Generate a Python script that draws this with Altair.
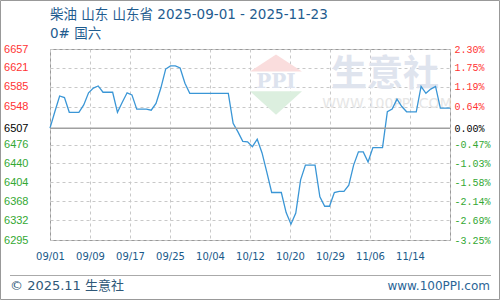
import json
import altair as alt
import pandas as pd

# ---------------- data ----------------
dates = pd.date_range("2025-09-01", "2025-11-23", freq="D").strftime("%Y-%m-%d").tolist()
prices = [
    6507, 6538, 6568, 6565, 6537, 6537, 6537, 6551, 6574, 6583,
    6587, 6575, 6575, 6575, 6537, 6556, 6574, 6570, 6543, 6543,
    6543, 6541, 6554, 6583, 6619, 6625, 6625, 6621, 6592, 6573,
    6573, 6573, 6573, 6573, 6573, 6573, 6573, 6573, 6516, 6500,
    6482, 6481, 6472, 6486, 6460, 6423, 6385, 6385, 6385, 6347,
    6325, 6346, 6409, 6437, 6437, 6437, 6377, 6359, 6359, 6385,
    6387, 6387, 6399, 6437, 6462, 6462, 6443, 6470, 6470, 6470,
    6538, 6543, 6562, 6548, 6538, 6538, 6538, 6586, 6573, 6581,
    6586, 6545, 6545, 6545,
]
baseline = [6507]
yticks = [6295, 6332, 6368, 6404, 6440, 6476, 6507, 6548, 6585, 6621, 6657]
pct_labels = ["-3.25%", "-2.69%", "-2.14%", "-1.58%", "-1.03%", "-0.47%",
              "0.00%", "0.64%", "1.19%", "1.75%", "2.30%"]
xlabels = ["09/01", "09/09", "09/17", "09/25", "10/04", "10/12",
           "10/20", "10/29", "11/06", "11/14", ""]
title_text = ["柴油 山东 山东省 2025-09-01 - 2025-11-23"]
subtitle_text = ["0# 国六"]
footer_left = ["© 2025.11 生意社"]
footer_right = ["www.100PPI.com"]
wm_big = ["生意社"]
wm_small = ["WWW.100PPI.COM"]
wm_logo = ["PPI"]

# ---------------- build ----------------
df = pd.DataFrame({"i": list(range(len(prices))), "date": dates, "price": prices})
n = len(prices) - 1
xvals = [round(k * n / 10, 3) for k in range(11)]
base = baseline[0]

FONT = "Verdana, DejaVu Sans, Noto Sans CJK SC"
yscale = alt.Scale(domain=[yticks[0], yticks[-1]], nice=False, zero=False)
xscale = alt.Scale(domain=[0, n], nice=False, zero=False)

label_color = {"expr": f"datum.value > {base} ? '#ff3333' : (datum.value < {base} ? '#33a833' : '#000000')"}

xaxis = alt.Axis(
    values=xvals, title=None, domain=False, ticks=False, labelFlush=False,
    labelExpr=f"{json.dumps(xlabels)}[round(datum.value / {n / 10})]",
    labelFont="DejaVu Sans", labelFontSize=10, labelColor="#1a5a8a", labelPadding=11,
    grid=True, gridDash=[3, 3], gridColor="#c8c8c8",
)
left_axis = alt.Axis(
    values=yticks, format="d", title=None, domain=False, ticks=False, orient="left",
    labelPadding=22, labelFont="Liberation Sans", labelFontSize=11, labelColor=label_color,
    grid=True, gridDash=[3, 3], gridColor="#c8c8c8",
)
right_axis = alt.Axis(
    values=yticks, title=None, domain=False, ticks=False, orient="right",
    labelExpr=f"{json.dumps(pct_labels)}[indexof({json.dumps(yticks)}, datum.value)]",
    labelPadding=4, labelFont="Liberation Mono", labelFontSize=10, labelColor=label_color,
    grid=False,
)

def txt(values, **kw):
    return alt.Chart(pd.DataFrame({"t": values})).mark_text(**kw)

watermark_big = txt(wm_big, font="Noto Sans CJK SC", fontSize=36, fontWeight="bold",
                    color="#dfe4ee", align="center", baseline="middle").encode(
    text="t:N", x=alt.value(335), y=alt.value(26))
watermark_small = txt(wm_small, font="DejaVu Sans", fontSize=14,
                      color="#e6e6e6", align="center", baseline="middle").encode(
    text="t:N", x=alt.value(337), y=alt.value(55))
logo_top = alt.Chart(pd.DataFrame({"t": wm_logo})).mark_point(
    shape="M-1,0.33L0,-0.33L1,0.33Z", filled=True, color="#fadddd", opacity=1, size=2700
).encode(x=alt.value(226), y=alt.value(14))
logo_bot = alt.Chart(pd.DataFrame({"t": wm_logo})).mark_point(
    shape="M-1,-0.45L0,0.45L1,-0.45Z", filled=True, color="#dcefdf", opacity=1, size=2700
).encode(x=alt.value(226), y=alt.value(54))
logo_txt = txt(wm_logo, font="DejaVu Serif", fontSize=20, fontWeight="bold",
               color="#dde3ee", align="center", baseline="middle").encode(
    text="t:N", x=alt.value(226), y=alt.value(33))

line = alt.Chart(df).mark_line(color="#3a96d6", strokeWidth=1.3).encode(
    x=alt.X("i:Q", scale=xscale, axis=xaxis),
    y=alt.Y("price:Q", scale=yscale, axis=left_axis),
)
zero_rule = alt.Chart(pd.DataFrame({"b": baseline})).mark_rule(
    color="#a0a0a0", strokeWidth=1.5
).encode(y=alt.Y("b:Q", scale=yscale, axis=right_axis))

title1 = txt(title_text, font=FONT, fontSize=13.5, color="#1f5c8f",
             align="left", baseline="middle").encode(text="t:N", x=alt.value(0), y=alt.value(-34))
title2 = txt(subtitle_text, font=FONT, fontSize=13.5, color="#1f5c8f",
             align="left", baseline="middle").encode(text="t:N", x=alt.value(0), y=alt.value(-15))

sep = alt.Chart(pd.DataFrame({"t": footer_left})).mark_rule(color="#aaaaaa", strokeWidth=1).encode(
    x=alt.value(-40), x2=alt.value(441), y=alt.value(226.5))
frame = alt.Chart(pd.DataFrame({"t": footer_left})).mark_rect(
    fill=None, fillOpacity=0, stroke="#999999", strokeWidth=1
).encode(x=alt.value(-49.5), x2=alt.value(449.5), y=alt.value(-48.5), y2=alt.value(250.5))
foot_l = txt(footer_left, font="DejaVu Sans, Noto Sans CJK SC", fontSize=13, color="#2f5878",
             align="left", baseline="middle").encode(text="t:N", x=alt.value(-40), y=alt.value(237))
foot_r = txt(footer_right, font="DejaVu Sans", fontSize=12, color="#2a6496",
             align="right", baseline="middle").encode(text="t:N", x=alt.value(440), y=alt.value(237))

chart = alt.layer(
    watermark_big, watermark_small, logo_top, logo_bot, logo_txt,
    line, zero_rule, title1, title2, sep, frame, foot_l, foot_r,
).resolve_scale(y="independent").properties(
    width=400, height=191,
    padding={"left": 50, "top": 49, "right": 50, "bottom": 60},
    autosize=alt.AutoSizeParams(type="none"),
    background="white",
).configure_view(stroke="#999999", strokeWidth=1)

chart.save("out.html", embed_options={"renderer": "svg", "actions": False})
